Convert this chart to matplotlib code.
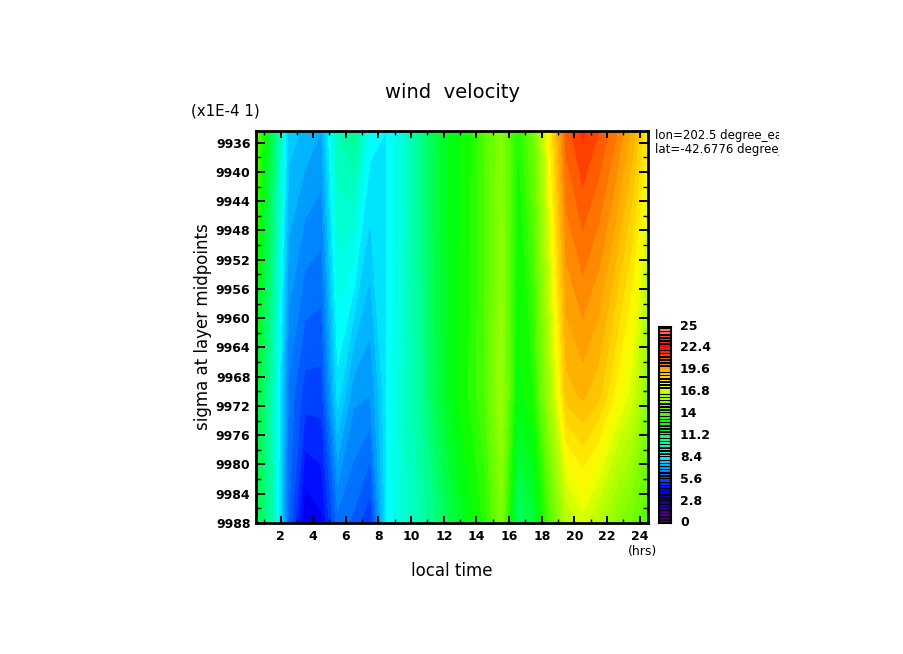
import numpy as np
import matplotlib
matplotlib.use('Agg')
import matplotlib.pyplot as plt
from matplotlib.colors import LinearSegmentedColormap, ListedColormap, BoundaryNorm
from matplotlib.transforms import Bbox

hours = [0.5, 1.5, 2.5, 3.5, 4.5, 5.5, 6.5, 7.5, 8.5, 9.5, 10.5, 11.5, 12.5,
         13.5, 14.5, 15.5, 16.5, 17.5, 18.5, 19.5, 20.5, 21.5, 22.5, 23.5, 24.5]
sigma = [9934.4, 9970.5, 9988]
wind_top = [14.4, 11.5, 7.8, 7.5, 7.2, 10.0, 10.6, 8.6, 8.4, 9.2, 10.6, 11.8, 12.6,
            13.0, 14.0, 15.2, 13.2, 14.6, 18.0, 21.0, 21.7, 21.2, 20.5, 19.5, 18.0]
wind_mid = [12.2, 9.9, 6.3, 5.4, 5.4, 8.2, 6.9, 6.8, 8.4, 9.5, 10.3, 11.6, 12.6,
            13.2, 14.0, 15.8, 12.6, 13.2, 16.0, 19.0, 19.3, 18.9, 17.9, 17.0, 15.3]
wind_bottom = [11.8, 10.0, 6.0, 4.0, 4.3, 6.2, 5.9, 5.2, 8.4, 9.4, 10.0, 10.8, 11.8,
               12.6, 13.3, 15.0, 11.2, 11.9, 14.0, 16.3, 17.0, 16.3, 15.3, 14.7, 14.0]

levels = list(np.arange(0, 24.9, 0.4)) + [25]
x_major = [2, 4, 6, 8, 10, 12, 14, 16, 18, 20, 22, 24]
y_major = [9936, 9940, 9944, 9948, 9952, 9956, 9960, 9964, 9968, 9972, 9976, 9980, 9984, 9988]
cbar_values = [0, 2.8, 5.6, 8.4, 11.2, 14, 16.8, 19.6, 22.4, 25]
cbar_labels = ['0', '2.8', '5.6', '8.4', '11.2', '14', '16.8', '19.6', '22.4', '25']

stops = [(0, (110, 0, 140)), (1.4, (50, 0, 140)), (2.8, (0, 0, 190)), (4.2, (0, 0, 255)),
         (5.6, (0, 90, 255)), (7, (0, 170, 255)), (8.4, (0, 255, 255)), (9.8, (0, 255, 180)),
         (11.2, (0, 255, 90)), (12.6, (0, 255, 0)), (14, (90, 255, 0)), (15.4, (150, 255, 0)),
         (16.8, (210, 255, 0)), (17.5, (255, 255, 0)), (19.6, (255, 160, 0)), (21, (255, 80, 0)),
         (22.4, (255, 0, 0)), (25, (255, 150, 150))]
cmap = LinearSegmentedColormap.from_list('rainbow_dcl', [(v / 25, tuple(c / 255 for c in rgb)) for v, rgb in stops], N=256)
band_colors = [cmap(v / 25) for v in levels[:-1]]
norm = BoundaryNorm(levels, len(band_colors))
band_cmap = ListedColormap(band_colors)

W, H = 904, 654
fig = plt.figure(figsize=(W / 100, H / 100), dpi=100)

def px_axes(x0, y0, x1, y1):
    return fig.add_axes([x0 / W, 1 - y1 / H, (x1 - x0) / W, (y1 - y0) / H])

def px_text(x, y, s, **kw):
    return fig.text(x / W, 1 - y / H, s, va='center', **kw)

ax = px_axes(256, 131, 648, 523)
field = np.array([wind_top, wind_mid, wind_bottom])
ax.contourf(hours, sigma, field, levels=levels, cmap=band_cmap, norm=norm, antialiased=False)
ax.set_xlim(0.5, 24.5)
ax.set_ylim(9988, 9934.4)

ax.set_xticks(x_major)
ax.set_xticks(np.arange(1, 25, 2), minor=True)
ax.set_yticks(y_major)
ax.set_yticks(np.arange(9938, 9988, 4), minor=True)
ax.tick_params(axis='x', which='major', direction='in', length=5, width=1.4, top=True, pad=5)
ax.tick_params(axis='x', which='minor', direction='in', length=3, width=1, top=True)
ax.tick_params(axis='y', which='major', direction='in', length=6.5, width=1.4, right=True, pad=4)
ax.tick_params(axis='y', which='minor', direction='in', length=3.5, width=1, right=True)
for lab in ax.get_xticklabels() + ax.get_yticklabels():
    lab.set_fontsize(9)
    lab.set_fontweight('bold')
for sp in ax.spines.values():
    sp.set_linewidth(2)

px_text(453, 92, 'wind  velocity', ha='center', fontsize=14)
px_text(191, 111, '(x1E-4 1)', ha='left', fontsize=10.8)
px_text(452, 571, 'local time', ha='center', fontsize=12)
px_text(203, 327, 'sigma at layer midpoints', ha='center', rotation=90, fontsize=12)
px_text(628, 551, '(hrs)', ha='left', fontsize=9)

clip = Bbox([[640, 0], [779, H]])
for yy, s in [(135, 'lon=202.5 degree_east'), (149, 'lat=-42.6776 degree_north')]:
    t = px_text(655, yy, s, ha='left', fontsize=8.5)
    t.set_clip_box(clip)
    t.set_clip_on(True)

cax = px_axes(659, 327, 671, 523)
cax.set_facecolor('black')
cax.set_xlim(0, 1)
cax.set_ylim(0, 25)
step = 0.4
for i, v in enumerate(levels[:-1]):
    # every 7th strip sits just under a labelled value and is drawn thicker
    thick = i % 7 == 6
    h = step * (0.95 if thick else 0.5)
    cax.barh(v + step / 2, 0.84, height=h, left=0.08, color=band_colors[i], antialiased=False)
cax.set_xticks([])
cax.set_yticks([])
for sp in cax.spines.values():
    sp.set_linewidth(1.5)

for val, s in zip(cbar_values, cbar_labels):
    px_text(680, 523 - val * 196 / 25, s, ha='left', fontsize=9, fontweight='bold')

fig.savefig('out.png', dpi=100)
